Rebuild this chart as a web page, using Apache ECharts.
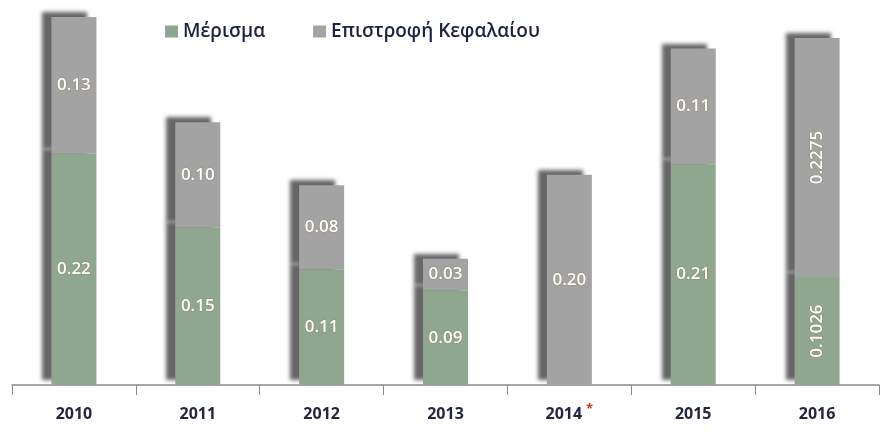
<!DOCTYPE html>
<html><head><meta charset="utf-8">
<script src="https://cdn.jsdelivr.net/npm/echarts@6/dist/echarts.min.js"></script>
<style>html,body{margin:0;padding:0;background:#fff}#c{width:880px;height:434px}</style>
</head><body><div id="c"></div>
<script>
const categories = ['2010','2011','2012','2013','2014','2015','2016'];
const dividend = [0.22, 0.15, 0.11, 0.09, 0, 0.21, 0.1026];
const capitalReturn = [0.13, 0.10, 0.08, 0.03, 0.20, 0.11, 0.2275];
const dividendLabels = ['0.22','0.15','0.11','0.09','','0.21','0.1026'];
const capitalLabels = ['0.13','0.10','0.08','0.03','0.20','0.11','0.2275'];

const FONT = '"Open Sans", Lato, sans-serif';
const chart = echarts.init(document.getElementById('c'));
const shadow = {shadowColor:'rgba(75,75,75,0.85)', shadowBlur:4, shadowOffsetX:-9, shadowOffsetY:-5};
const labelBase = {show:true, color:'#fff', fontSize:17, fontWeight:600, fontFamily:FONT,
  textBorderColor:'rgba(140,110,60,0.45)', textBorderWidth:1};
function mk(vals, labels){
  return vals.map((v,i)=>{
    const o = {value:v};
    if (i === 6) o.label = {rotate:90};
    if (!labels[i]) o.label = {show:false};
    return o;
  });
}
chart.setOption({
  animation:false,
  legend:{top:17, left:160, itemGap:48, itemWidth:13, itemHeight:12, icon:'rect',
    textStyle:{color:'#1c2240', fontSize:19, fontWeight:600, fontFamily:FONT},
    data:['Μέρισμα','Επιστροφή Κεφαλαίου']},
  grid:{left:12, right:1, top:17, bottom:49},
  xAxis:{type:'category', data:categories,
    axisLine:{lineStyle:{color:'#8a8a8a', width:1.5}},
    axisTick:{show:true, length:10, lineStyle:{color:'#8a8a8a'}},
    axisLabel:{interval:0, hideOverlap:false, margin:18, color:'#232640', fontSize:16, fontWeight:'bold', fontFamily:FONT, lineHeight:22,
      formatter:function(v){ return v==='2014' ? '{a|'+v+'}{s|*}' : v; },
      rich:{a:{color:'#232640', fontSize:16, fontWeight:'bold', fontFamily:FONT, lineHeight:22},
            s:{color:'#c0392b', fontSize:13, verticalAlign:'top', lineHeight:22, padding:[0,0,0,4]}}}},
  yAxis:{type:'value', min:0, max:0.35, show:false, splitLine:{show:false}},
  series:[
    {name:'Μέρισμα', type:'bar', stack:'s', barWidth:45, data:mk(dividend, dividendLabels),
     itemStyle:Object.assign({color:'#8fa78f'}, shadow),
     label:Object.assign({}, labelBase, {position:'inside', formatter:p=>dividendLabels[p.dataIndex]})},
    {name:'Επιστροφή Κεφαλαίου', type:'bar', stack:'s', barWidth:45, data:mk(capitalReturn, capitalLabels),
     itemStyle:Object.assign({color:'#a3a3a3'}, shadow),
     label:Object.assign({}, labelBase, {position:'inside', formatter:p=>capitalLabels[p.dataIndex]})}
  ]
});
</script></body></html>
